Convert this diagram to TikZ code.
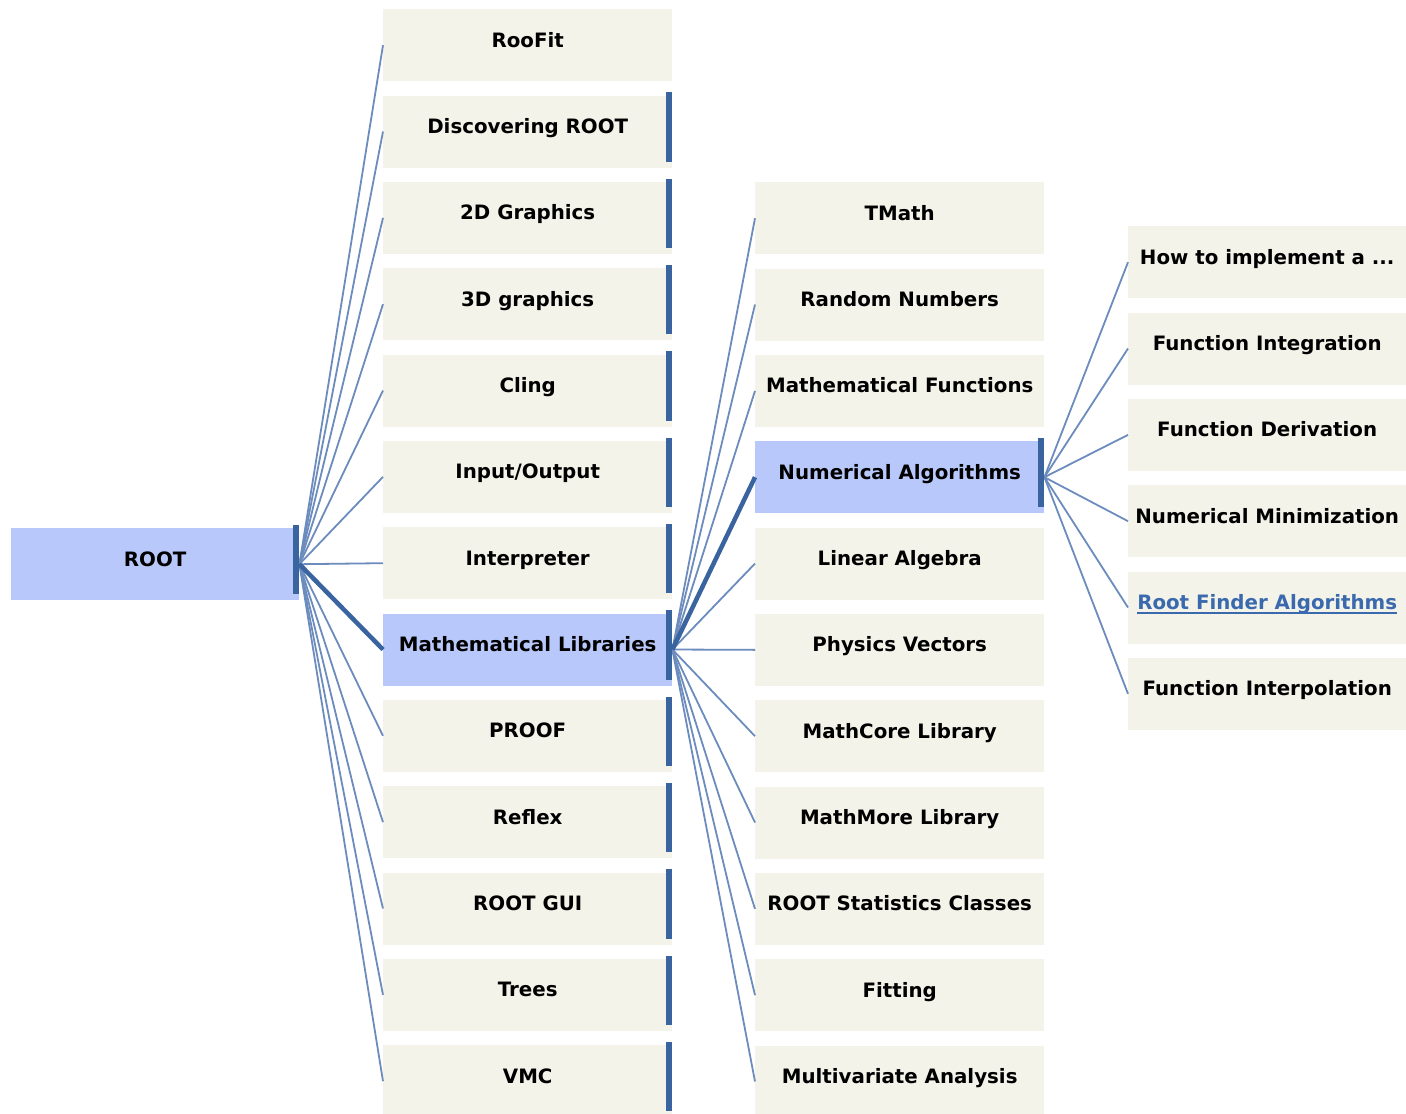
\documentclass[tikz,border=0pt]{standalone}
\usepackage{fontspec}
\setmainfont{DejaVu Sans}
\usetikzlibrary{positioning}

\definecolor{boxfill}{RGB}{243,243,233}
\definecolor{selfill}{RGB}{184,200,250}
\definecolor{barblue}{RGB}{58,100,160}
\definecolor{linkblue}{RGB}{58,106,173}
\definecolor{edgeblue}{RGB}{108,140,190}

\newcommand{\howtotext}{How to implement a ...}
\newcommand{\linktext}[1]{{\color{linkblue}\setbox0\hbox{#1}\rlap{\rule[-4.5pt]{\wd0}{1.6pt}}\box0}}

\tikzset{
	item/.style = {fill = boxfill, minimum width = 289pt, minimum height = 72pt, inner sep = 0pt,
		anchor = north west, font = \bfseries\fontsize{19.8}{20}\selectfont,
		text height = 14pt, text depth = 10pt},
	leaf/.style = {item, minimum width = 278pt},
	sel/.style = {fill = selfill},
	edge/.style = {draw = edgeblue, line width = 1.8pt},
	mainedge/.style = {draw = barblue, line width = 4.5pt},
	bar/.style = {fill = barblue}
}

\begin{document}
\begin{tikzpicture}[x = 1pt, y = -1pt]
		\fill[white] (0,0) rectangle (1406,1114);
		\useasboundingbox (0,0) rectangle (1406,1114);

		% root
		\node[item, sel, minimum width = 288pt] (root) at (11,528) {ROOT};

		% first level
		\foreach \name/\txt [count = \i from 0] in {roofit/RooFit, discover/Discovering ROOT,
				graphicsA/2D Graphics, graphicsB/3D graphics, cling/Cling, inout/{Input/Output},
				interp/Interpreter, mathlib/Mathematical Libraries, proof/PROOF, reflex/Reflex,
				rootgui/ROOT GUI, trees/Trees, vmc/VMC}
			\node[item] (\name) at (383,{9 + 86.33*\i}) {\txt};
		\node[item, sel] at (mathlib.north west) {Mathematical Libraries};

		% second level
		\foreach \name/\txt [count = \i from 0] in {tmath/TMath, random/Random Numbers,
				mathfunc/Mathematical Functions, numalg/Numerical Algorithms, linalg/Linear Algebra,
				physvec/Physics Vectors, mathcore/MathCore Library, mathmore/MathMore Library,
				stats/ROOT Statistics Classes, fitting/Fitting, mva/Multivariate Analysis}
			\node[item] (\name) at (755,{182 + 86.33*\i}) {\txt};
		\node[item, sel] at (numalg.north west) {Numerical Algorithms};

		% third level
		\foreach \name/\txt [count = \i from 0] in {howto/\howtotext,
				integ/Function Integration, deriv/Function Derivation,
				minim/Numerical Minimization,
				rootfind/{\linktext{Root Finder Algorithms}},
				interpol/Function Interpolation}
			\node[leaf] (\name) at (1128,{226 + 86.33*\i}) {\txt};

		% connectors
		\foreach \n in {roofit, discover, graphicsA, graphicsB, cling, inout, interp,
				proof, reflex, rootgui, trees, vmc}
			\draw[edge] (root.east) -- (\n.west);
		\draw[mainedge] (root.east) -- (mathlib.west);
		\foreach \n in {tmath, random, mathfunc, linalg, physvec, mathcore, mathmore,
				stats, fitting, mva}
			\draw[edge] (mathlib.east) -- (\n.west);
		\draw[mainedge] (mathlib.east) -- (numalg.west);
		\foreach \n in {howto, integ, deriv, minim, rootfind, interpol}
			\draw[edge] (numalg.east) -- (\n.west);

		% bars
		\foreach \n in {root, discover, graphicsA, graphicsB, cling, inout, interp, mathlib,
				proof, reflex, rootgui, trees, vmc, numalg}
			\fill[bar] ([xshift = -6pt, yshift = 3pt]\n.north east) rectangle ([yshift = 6pt]\n.south east);
	\end{tikzpicture}
\end{document}
